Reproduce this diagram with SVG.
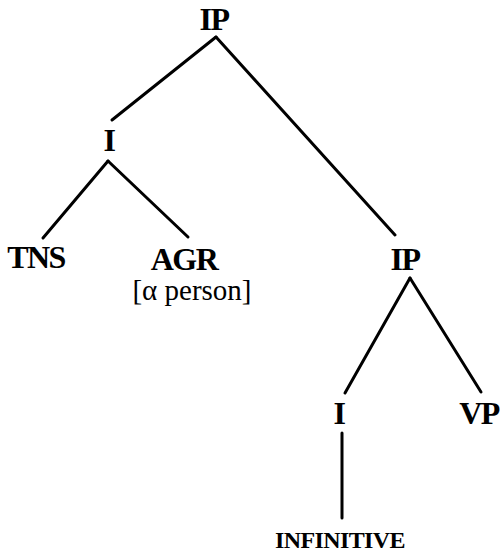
<svg xmlns="http://www.w3.org/2000/svg" width="501" height="552" viewBox="0 0 501 552">
  <style>
    .lbl { font-weight: bold; font-size: 32px; letter-spacing: -1.5px; fill: #000; text-anchor: middle; }
    .feat { font-size: 29px; fill: #000; text-anchor: middle; }
    .small { font-size: 24px; letter-spacing: -0.6px; }
    .edge { stroke: #000; stroke-width: 3; stroke-linecap: round; fill: none; }
  </style>
  <rect width="501" height="552" fill="#fff"/>
  <g id="edges">
    <line class="edge" x1="216" y1="37" x2="112" y2="120"/>
    <line class="edge" x1="216" y1="37" x2="395" y2="235"/>
    <line class="edge" x1="108" y1="161" x2="43" y2="238"/>
    <line class="edge" x1="108" y1="161" x2="188" y2="237"/>
    <line class="edge" x1="410" y1="278" x2="345" y2="393"/>
    <line class="edge" x1="410" y1="278" x2="481" y2="392"/>
    <line class="edge" x1="342" y1="433" x2="342" y2="518"/>
  </g>
  <g font-family="Liberation Serif, serif">
    <g id="ip-root"><text class="lbl" x="214" y="30">IP</text></g>
    <g id="i-upper"><text class="lbl" x="109" y="151">I</text></g>
    <g id="tns"><text class="lbl" x="36" y="268">TNS</text></g>
    <g id="agr">
      <text class="lbl" x="184" y="270">AGR</text>
      <text class="feat" x="192" y="300">[α person]</text>
    </g>
    <g id="ip-lower"><text class="lbl" x="405" y="270">IP</text></g>
    <g id="i-lower"><text class="lbl" x="339" y="424">I</text></g>
    <g id="vp"><text class="lbl" x="479" y="424">VP</text></g>
    <g id="infinitive"><text class="lbl small" x="340" y="548">INFINITIVE</text></g>
  </g>
</svg>
